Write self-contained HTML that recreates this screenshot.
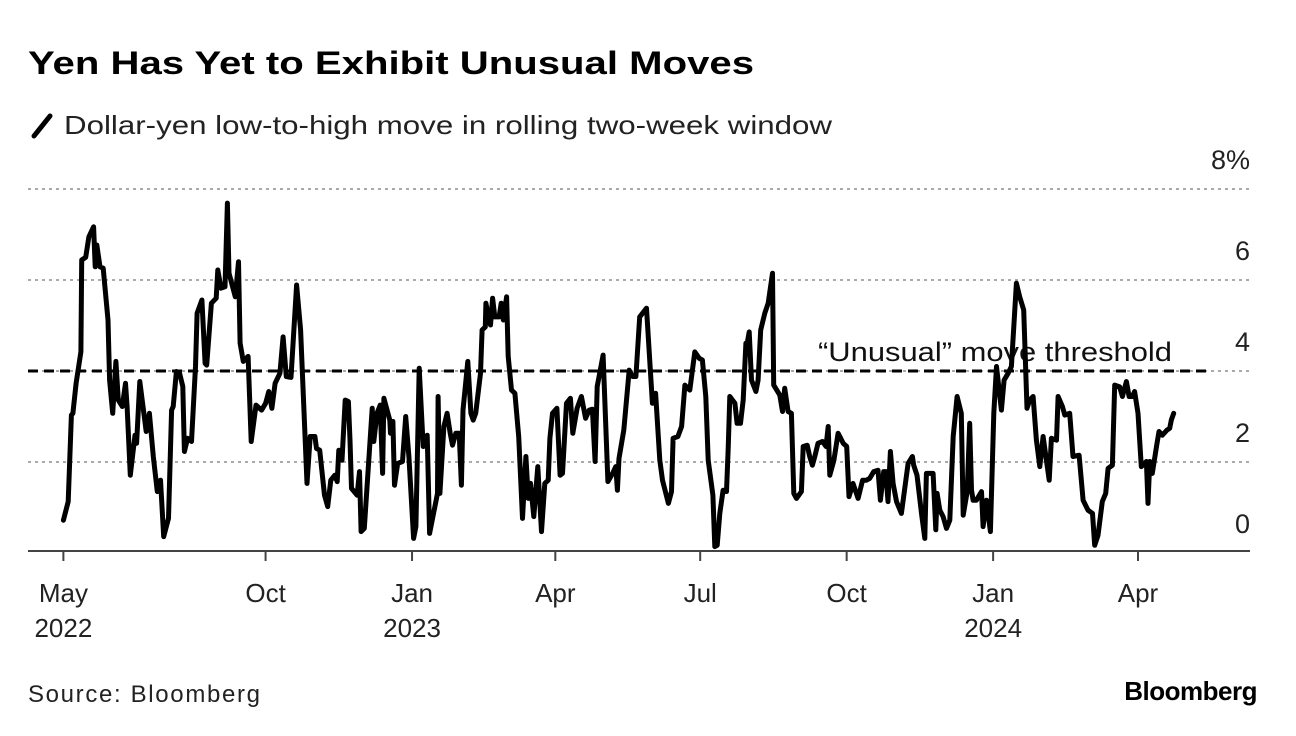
<!DOCTYPE html>
<html><head><meta charset="utf-8"><style>
html,body{margin:0;padding:0;background:#fff;}
svg{display:block;font-family:"Liberation Sans",sans-serif;}
</style></head><body>
<svg id="chart" width="1296" height="736" viewBox="0 0 1296 736">
<text x="28" y="74" font-size="32" font-weight="bold" fill="#000" textLength="726" lengthAdjust="spacingAndGlyphs">Yen Has Yet to Exhibit Unusual Moves</text>
<line x1="34" y1="136" x2="50" y2="116" stroke="#000" stroke-width="5" stroke-linecap="round"/>
<text x="64" y="134" font-size="26" fill="#222" textLength="768" lengthAdjust="spacingAndGlyphs">Dollar-yen low-to-high move in rolling two-week window</text>
<g id="grid"></g>
<g id="yaxis"></g>
<g id="xaxis"></g>
<g id="thresh"></g>
<path id="series" fill="none" stroke="#000" stroke-width="5" stroke-linejoin="round" stroke-linecap="round"/>
<text x="28" y="702" font-size="24" fill="#222" textLength="232" lengthAdjust="spacing">Source: Bloomberg</text>
<text x="1257" y="700" font-size="26" font-weight="bold" fill="#000" text-anchor="end" letter-spacing="-0.5">Bloomberg</text>
</svg>
<script>
const days = [26,29,31,32,34,37,37.5,40,42,45,46,47,49,51,54,55,57,59,60.5,63,65,66,68,71,72,74,76,78,80,82.5,85,87,89,92,94,95,97,99,101,102,104,106.5,109,110,113,115,116,119,122,123,125,127.5,129,130,134,136,137,139,142,144,147,150.5,153,155,157,159,162,164,166,169,172.5,175,179,181,184,185,187,190,192,194,196.5,198,199,201,203,205,206,207,210.5,212,213,215,220,221,223,225,226.5,227.3,231,231.5,233,234,236,239,241,243,246,247.4,249.5,252,254.5,256,261,261.4,262.5,265,267,269,270.4,272.5,274.6,276,277,280,282,283.4,285,288,289,291,291.4,293,294.3,295.6,297,299.7,301,302.3,304.4,305.4,307.5,309.6,312,314.4,316.5,318,319.4,321.5,324,326.3,328.4,330.5,331.6,333.2,336,338,339.5,342,344.5,346,348.7,351.4,354,356.3,358.3,360,361.3,365,368,371,373,374,375,378,381.4,383.5,385.6,388,392.3,396,398,400.6,402.3,406,408,409,412,414.3,416.4,419.5,422.6,425.4,427.4,429.5,431,434,435.2,436.7,438.3,440.4,442.5,443.6,444.6,447.8,449.2,451.3,453,454.7,455.5,456.8,458.2,461,462.4,464,466.6,468.7,471.4,472.2,476,477.7,479.1,481.2,483.3,484.8,486.5,489.6,490.7,493.2,494.8,496.5,498,500,502.8,505,506.4,507.4,510,512.6,515.8,518,519.5,522,525.2,528,530.4,532.5,535,537.7,539.2,541.3,542.6,544,545.5,547.2,549.3,552.4,556.6,559.3,560.1,562.2,565,567.1,568.1,572.3,574,574.8,576.5,578.6,580.7,582.8,584.9,587.4,590,591.2,593.7,595.3,596.4,597.4,599.5,602.7,603.7,605.8,608.3,610.4,612.1,615.2,616.9,619.4,621.5,623.6,624.6,626.7,629.2,631.3,633,635.1,637.2,639.3,641.4,645.2,646.6,649.8,650.8,653.5,655,658.1,660.2,664,666.5,669.6,672.4,673.8,675.9,678.6,680.7,682.2,684.9,686.4,689.5,691.2,693.7,695.4,697.5,698.9,701,703.1,706.3,707.3,708.4,710,712.6,714.2,716.3,719.2,720.9,721.9,723.4];
const values = [0.72,1.13,3.03,3.07,3.73,4.42,6.44,6.50,6.95,7.17,6.29,6.77,6.29,6.26,5.12,3.80,3.07,4.21,3.36,3.22,3.73,3.22,1.71,2.59,2.41,3.77,3.22,2.67,3.07,2.12,1.35,1.60,0.36,0.76,3.14,3.22,3.99,3.95,3.66,2.23,2.52,2.45,4.10,5.27,5.56,4.17,4.13,5.49,5.60,6.22,5.82,5.85,7.69,6.15,5.63,6.40,4.61,4.21,4.32,2.45,3.25,3.14,3.29,3.55,3.18,3.73,3.95,4.75,3.88,3.86,5.89,4.90,1.53,2.56,2.56,2.30,2.26,1.27,1.02,1.60,1.71,1.57,2.26,2.04,3.36,3.33,2.48,1.42,1.27,1.79,0.47,0.54,3.18,2.45,3.07,3.25,1.75,3.40,2.92,2.63,2.89,1.49,1.97,2.01,3.00,2.12,0.32,0.58,4.06,2.34,2.59,0.43,1.31,3.44,1.31,2.78,3.07,2.63,2.37,2.63,2.63,1.49,3.14,4.21,3.07,2.92,3.07,3.95,4.90,4.97,5.49,5.19,5.01,5.60,5.19,5.19,5.49,5.12,5.63,4.32,3.58,3.51,2.56,0.76,2.12,1.20,1.53,0.80,1.90,0.47,1.53,1.60,2.52,3.07,3.18,1.71,1.75,3.29,3.40,2.63,3.18,3.44,2.96,3.14,3.16,2.01,3.66,4.35,1.57,1.75,1.90,1.38,2.08,2.70,4.02,3.88,3.88,5.19,5.38,3.29,3.51,2.04,1.60,1.09,1.35,2.52,2.56,2.78,3.69,3.58,4.42,4.28,4.24,3.44,2.04,1.27,0.14,0.17,0.87,1.38,1.35,2.30,3.44,3.29,2.85,2.85,3.36,4.61,4.61,4.86,3.80,3.55,3.80,4.90,5.27,5.49,6.15,3.69,3.47,3.11,3.62,3.11,3.07,1.31,1.20,1.35,2.34,2.37,2.12,1.93,2.12,2.41,2.45,2.34,2.78,1.71,2.04,2.63,2.41,2.34,1.24,1.53,1.20,1.60,1.60,1.64,1.79,1.82,1.16,1.79,1.79,1.13,2.23,1.53,1.13,0.87,1.97,2.12,1.93,1.71,0.87,0.32,1.75,1.75,0.51,1.31,0.94,0.80,0.54,0.72,2.56,3.44,3.07,0.83,1.35,2.85,1.38,1.16,1.16,1.35,0.58,1.16,0.47,3.07,4.10,3.14,3.80,3.95,4.10,5.34,5.93,5.63,5.34,3.18,3.36,3.44,2.48,1.90,2.56,1.60,2.52,2.48,3.44,3.22,3.03,3.07,2.12,2.15,1.16,0.94,0.87,0.17,0.39,1.13,1.31,1.86,1.93,3.69,3.65,3.44,3.77,3.44,3.44,3.55,3.07,1.90,2.01,1.09,2.01,1.75,2.34,2.67,2.59,2.70,2.74,2.92,3.07];
const yTicks = [0,2,4,6,8];
const yTickLabels = ["0","2","4","6","8%"];
const xTickDays = [26,153,245,335,426,518,610,701];
const xTickLabels = ["May","Oct","Jan","Apr","Jul","Oct","Jan","Apr"];
const xTickYears = ["2022","","2023","","","","2024",""];
const threshold = [4];
const thresholdLabel = ["\u201CUnusual\u201D move threshold"];

const NS="http://www.w3.org/2000/svg";
const X = d => 22 + d*1.592;
const Y = v => 553 - v*45.5;
function mk(tag, attrs, parent, text){
  const e=document.createElementNS(NS,tag);
  for(const k in attrs) e.setAttribute(k,attrs[k]);
  if(text!==undefined) e.textContent=text;
  parent.appendChild(e); return e;
}
const grid=document.getElementById('grid'), ya=document.getElementById('yaxis'), xa=document.getElementById('xaxis'), th=document.getElementById('thresh');
yTicks.forEach((v,i)=>{
  if(v>0){
    const l=mk('line',{x1:28,x2:1250,y1:Y(v),y2:Y(v),stroke:'#aaa','stroke-width':2,'stroke-dasharray':'3,4'},grid);
    
    
  }
  const t=mk('text',{x:1250,y:Y(v)-20,'font-size':27,fill:'#222','text-anchor':'end'},ya,yTickLabels[i]);
  
  
});
const ax=mk('line',{x1:28,x2:1250,y1:551,y2:551,stroke:'#444','stroke-width':2},xa);


xTickDays.forEach((d,i)=>{
  const tk=mk('line',{x1:X(d),x2:X(d),y1:551,y2:561,stroke:'#444','stroke-width':2},xa);
  
  
  const t=mk('text',{x:X(d),y:602,'font-size':26,fill:'#222','text-anchor':'middle'},xa,xTickLabels[i]);
  
  
  if(xTickYears[i]){
    const t2=mk('text',{x:X(d),y:637,'font-size':26,fill:'#222','text-anchor':'middle'},xa,xTickYears[i]);
    
    
  }
});
const tl=mk('line',{x1:28,x2:1207,y1:Y(threshold[0]),y2:Y(threshold[0]),stroke:'#000','stroke-width':3,'stroke-dasharray':'10,6'},th);


const tt=mk('text',{x:818,y:Y(threshold[0])-10,'font-size':27,fill:'#111',textLength:354,lengthAdjust:'spacingAndGlyphs'},th,thresholdLabel[0]);


document.getElementById('series').setAttribute('d', days.map((d,i)=>(i?'L':'M')+X(d).toFixed(1)+','+Y(values[i]).toFixed(1)).join(''));
</script>
</body></html>
